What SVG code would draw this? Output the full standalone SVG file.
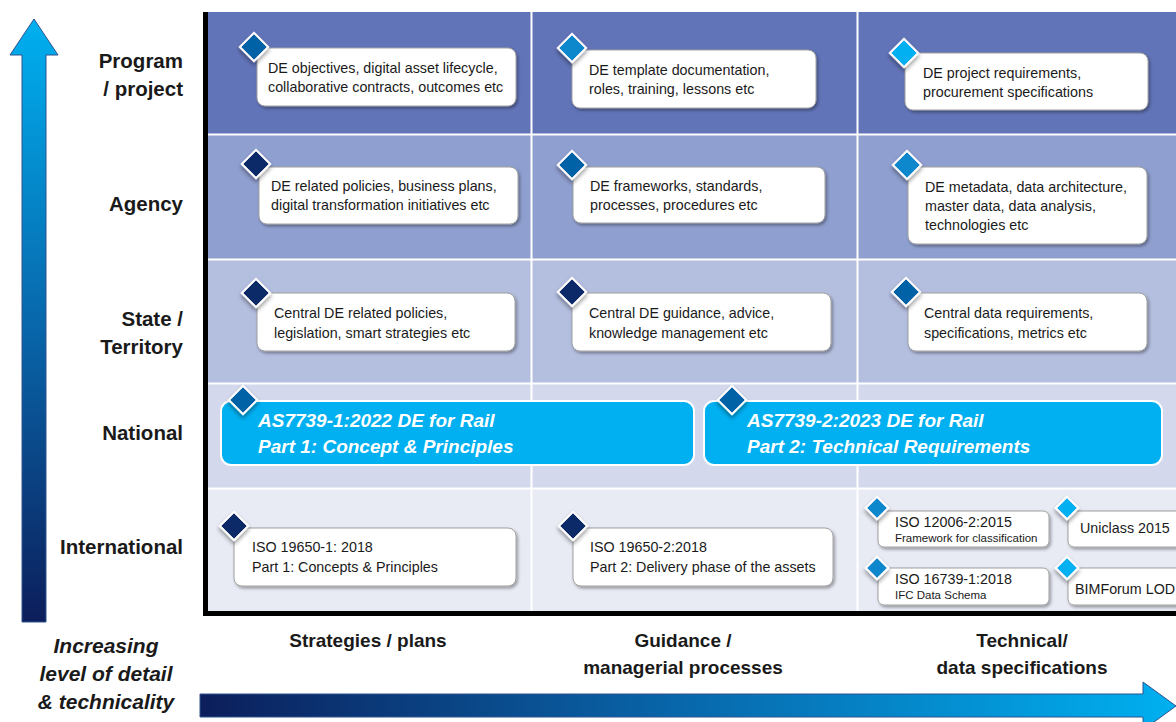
<svg xmlns="http://www.w3.org/2000/svg" width="1176" height="722" viewBox="0 0 1176 722">
<defs>
  <linearGradient id="gv" gradientUnits="userSpaceOnUse" x1="0" y1="19" x2="0" y2="622">
    <stop offset="0" stop-color="#00B0F0"/>
    <stop offset="0.5" stop-color="#0868AC"/>
    <stop offset="1" stop-color="#0C1E5B"/>
  </linearGradient>
  <linearGradient id="gh" gradientUnits="userSpaceOnUse" x1="200" y1="0" x2="1176" y2="0">
    <stop offset="0" stop-color="#0C1E5B"/>
    <stop offset="0.5" stop-color="#0868AC"/>
    <stop offset="1" stop-color="#00B0F0"/>
  </linearGradient>
  <filter id="sh" x="-10%" y="-20%" width="125%" height="150%">
    <feDropShadow dx="1.5" dy="2" stdDeviation="1.8" flood-color="#000" flood-opacity="0.35"/>
  </filter>
  <filter id="dsh" x="-40%" y="-40%" width="190%" height="190%">
    <feDropShadow dx="2" dy="2" stdDeviation="2" flood-color="#000" flood-opacity="0.4"/>
  </filter>
  <style>
    .box{fill:#fff;stroke:#A0A0A0;stroke-width:1;filter:url(#sh)}
    .big{fill:#00B0F0;stroke:#fff;stroke-width:2}
    .dm{stroke:#fff;stroke-width:2;filter:url(#dsh)}
    .navy{fill:#0F2B68}
    .mid{fill:#0062A6}
    .lt{fill:#0A88CC}
    .cy{fill:#00B0F0}
    .t{font-family:"Liberation Sans",Arial,sans-serif;font-size:14.3px;fill:#1A1A1A}
    .ts{font-family:"Liberation Sans",Arial,sans-serif;font-size:11.5px;fill:#1A1A1A}
    .bt{font-family:"Liberation Sans",Arial,sans-serif;font-size:19px;font-weight:bold;font-style:italic;fill:#fff}
    .rl{font-family:"Liberation Sans",Arial,sans-serif;font-size:20.5px;font-weight:bold;fill:#1A1A1A;text-anchor:end}
    .cl{font-family:"Liberation Sans",Arial,sans-serif;font-size:19px;font-weight:bold;fill:#1A1A1A;text-anchor:middle}
    .il{font-family:"Liberation Sans",Arial,sans-serif;font-size:21px;font-weight:bold;font-style:italic;fill:#1A1A1A;text-anchor:middle}
    .sep{stroke:#fff;stroke-width:2}
  </style>
</defs>
<rect width="1176" height="722" fill="#fff"/>

<g id="grid">
  <rect x="208" y="12" width="968" height="122" fill="#6274B8"/>
  <rect x="208" y="135" width="968" height="124" fill="#8F9FCF"/>
  <rect x="208" y="260" width="968" height="123" fill="#B4BEDF"/>
  <rect x="208" y="384" width="968" height="104" fill="#D3D8EC"/>
  <rect x="208" y="489" width="968" height="123" fill="#E8EAF4"/>
  <line class="sep" x1="208" y1="134.5" x2="1176" y2="134.5"/>
  <line class="sep" x1="208" y1="259.5" x2="1176" y2="259.5"/>
  <line class="sep" x1="208" y1="383.5" x2="1176" y2="383.5"/>
  <line class="sep" x1="208" y1="488.5" x2="1176" y2="488.5"/>
  <line class="sep" x1="531.5" y1="12" x2="531.5" y2="611"/>
  <line class="sep" x1="857.5" y1="12" x2="857.5" y2="611"/>
  <rect x="203" y="12" width="5" height="604" fill="#000"/>
  <rect x="203" y="611" width="973" height="5" fill="#000"/>
</g>

<g id="axis-arrows">
  <polygon points="34,19 58,55 46,55 46,622 22,622 22,55 10,55" fill="url(#gv)" stroke="#2F528F" stroke-width="1"/>
  <polygon points="200,694 1143,694 1143,682 1176,706 1143,730 1143,717 200,717" fill="url(#gh)" stroke="#2F528F" stroke-width="1"/>
</g>

<g id="row-labels">
  <text class="rl" x="183" y="68">Program</text>
  <text class="rl" x="183" y="96">/ project</text>
  <text class="rl" x="183" y="211">Agency</text>
  <text class="rl" x="183" y="326">State /</text>
  <text class="rl" x="183" y="354">Territory</text>
  <text class="rl" x="183" y="440">National</text>
  <text class="rl" x="183" y="554">International</text>
</g>

<g id="column-labels">
  <text class="cl" x="368" y="647">Strategies / plans</text>
  <text class="cl" x="683" y="647">Guidance /</text>
  <text class="cl" x="683" y="674">managerial processes</text>
  <text class="cl" x="1022" y="647">Technical/</text>
  <text class="cl" x="1022" y="674">data specifications</text>
</g>

<g id="axis-label">
  <text class="il" x="106" y="653">Increasing</text>
  <text class="il" x="106" y="681">level of detail</text>
  <text class="il" x="106" y="709">&amp; technicality</text>
</g>

<g id="n-prog-strategy">
  <rect class="box" x="257" y="48" width="259" height="58" rx="8"/>
  <rect class="dm mid" x="-10" y="-10" width="20" height="20" transform="translate(254,47) rotate(45)"/>
  <text class="t" x="268" y="73">DE objectives, digital asset lifecycle,</text>
  <text class="t" x="268" y="92">collaborative contracts, outcomes etc</text>
</g>
<g id="n-prog-guidance">
  <rect class="box" x="572" y="50" width="244" height="58" rx="8"/>
  <rect class="dm lt" x="-10" y="-10" width="20" height="20" transform="translate(572,48) rotate(45)"/>
  <text class="t" x="589" y="75">DE template documentation,</text>
  <text class="t" x="589" y="94">roles, training, lessons etc</text>
</g>
<g id="n-prog-technical">
  <rect class="box" x="905" y="53" width="243" height="57" rx="8"/>
  <rect class="dm cy" x="-10" y="-10" width="20" height="20" transform="translate(904,53) rotate(45)"/>
  <text class="t" x="923" y="78">DE project requirements,</text>
  <text class="t" x="923" y="97">procurement specifications</text>
</g>

<g id="n-agency-strategy">
  <rect class="box" x="259" y="167" width="259" height="57" rx="8"/>
  <rect class="dm navy" x="-10" y="-10" width="20" height="20" transform="translate(256,164) rotate(45)"/>
  <text class="t" x="271" y="191">DE related policies, business plans,</text>
  <text class="t" x="271" y="210">digital transformation initiatives etc</text>
</g>
<g id="n-agency-guidance">
  <rect class="box" x="573" y="167" width="252" height="56" rx="8"/>
  <rect class="dm mid" x="-10" y="-10" width="20" height="20" transform="translate(572,165) rotate(45)"/>
  <text class="t" x="590" y="191">DE frameworks, standards,</text>
  <text class="t" x="590" y="210">processes, procedures etc</text>
</g>
<g id="n-agency-technical">
  <rect class="box" x="908" y="167" width="239" height="77" rx="8"/>
  <rect class="dm lt" x="-10" y="-10" width="20" height="20" transform="translate(907,165) rotate(45)"/>
  <text class="t" x="925" y="192">DE metadata, data architecture,</text>
  <text class="t" x="925" y="211">master data, data analysis,</text>
  <text class="t" x="925" y="230">technologies etc</text>
</g>

<g id="n-state-strategy">
  <rect class="box" x="257" y="293" width="258" height="58" rx="8"/>
  <rect class="dm navy" x="-10" y="-10" width="20" height="20" transform="translate(256,293) rotate(45)"/>
  <text class="t" x="274" y="318">Central DE related policies,</text>
  <text class="t" x="274" y="338">legislation, smart strategies etc</text>
</g>
<g id="n-state-guidance">
  <rect class="box" x="572" y="293" width="259" height="58" rx="8"/>
  <rect class="dm navy" x="-10" y="-10" width="20" height="20" transform="translate(572,292) rotate(45)"/>
  <text class="t" x="589" y="318">Central DE guidance, advice,</text>
  <text class="t" x="589" y="338">knowledge management etc</text>
</g>
<g id="n-state-technical">
  <rect class="box" x="908" y="293" width="239" height="58" rx="8"/>
  <rect class="dm mid" x="-10" y="-10" width="20" height="20" transform="translate(906,292) rotate(45)"/>
  <text class="t" x="924" y="318">Central data requirements,</text>
  <text class="t" x="924" y="338">specifications, metrics etc</text>
</g>

<g id="n-national-part1">
  <rect class="big" x="221" y="401" width="473" height="64" rx="10"/>
  <rect class="dm mid" x="-10" y="-10" width="20" height="20" transform="translate(243,400) rotate(45)"/>
  <text class="bt" x="258" y="427">AS7739-1:2022 DE for Rail</text>
  <text class="bt" x="258" y="453">Part 1: Concept &amp; Principles</text>
</g>
<g id="n-national-part2">
  <rect class="big" x="704" y="401" width="458" height="64" rx="10"/>
  <rect class="dm mid" x="-10" y="-10" width="20" height="20" transform="translate(732,400) rotate(45)"/>
  <text class="bt" x="747" y="427">AS7739-2:2023 DE for Rail</text>
  <text class="bt" x="747" y="453">Part 2: Technical Requirements</text>
</g>

<g id="n-intl-iso19650-1">
  <rect class="box" x="234" y="528" width="282" height="58" rx="8"/>
  <rect class="dm navy" x="-10" y="-10" width="20" height="20" transform="translate(234,526) rotate(45)"/>
  <text class="t" x="252" y="552">ISO 19650-1: 2018</text>
  <text class="t" x="252" y="572">Part 1: Concepts &amp; Principles</text>
</g>
<g id="n-intl-iso19650-2">
  <rect class="box" x="573" y="528" width="260" height="58" rx="8"/>
  <rect class="dm navy" x="-10" y="-10" width="20" height="20" transform="translate(573,526) rotate(45)"/>
  <text class="t" x="590" y="552">ISO 19650-2:2018</text>
  <text class="t" x="590" y="572">Part 2: Delivery phase of the assets</text>
</g>
<g id="n-intl-iso12006">
  <rect class="box" x="878" y="511" width="171" height="36" rx="6"/>
  <rect class="dm lt" x="-8" y="-8" width="16" height="16" transform="translate(877,508) rotate(45)"/>
  <text class="t" x="895" y="527">ISO 12006-2:2015</text>
  <text class="ts" x="895" y="542">Framework for classification</text>
</g>
<g id="n-intl-iso16739">
  <rect class="box" x="878" y="568" width="171" height="37" rx="6"/>
  <rect class="dm lt" x="-8" y="-8" width="16" height="16" transform="translate(877,568) rotate(45)"/>
  <text class="t" x="895" y="584">ISO 16739-1:2018</text>
  <text class="ts" x="895" y="599">IFC Data Schema</text>
</g>
<g id="n-intl-uniclass">
  <rect class="box" x="1068" y="511" width="120" height="36" rx="6"/>
  <rect class="dm cy" x="-8" y="-8" width="16" height="16" transform="translate(1067,508) rotate(45)"/>
  <text class="t" x="1080" y="533">Uniclass 2015</text>
</g>
<g id="n-intl-bimforum">
  <rect class="box" x="1068" y="568" width="120" height="37" rx="6"/>
  <rect class="dm cy" x="-8" y="-8" width="16" height="16" transform="translate(1067,568) rotate(45)"/>
  <text class="t" x="1075" y="594">BIMForum LOD</text>
</g>
</svg>
